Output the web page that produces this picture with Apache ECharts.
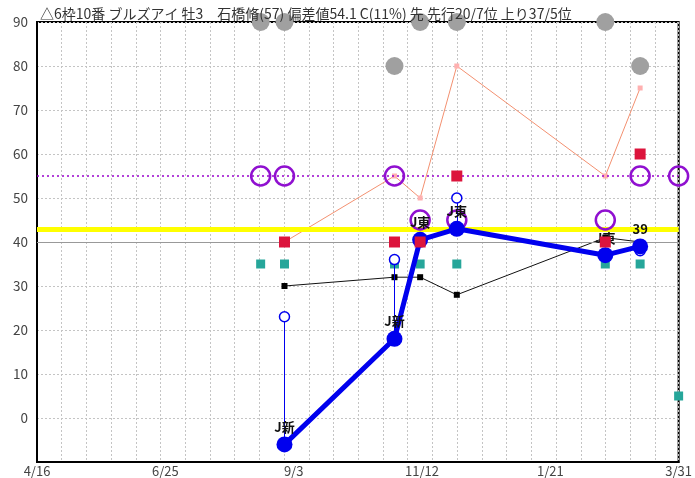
<!DOCTYPE html>
<html><head><meta charset="utf-8">
<script src="https://cdn.jsdelivr.net/npm/echarts@6/dist/echarts.min.js"></script>
<style>html,body{margin:0;padding:0;background:#fff}#c{width:695px;height:478px}</style>
</head><body><div id="c"></div>
<script>
const titleText = '△6枠10番 ブルズアイ 牡3　石橋脩(57) 偏差値54.1 C(11%) 先 先行20/7位 上り37/5位';
const startDate = '2023-04-16';
const endDate = '2024-03-31';
const tickLabels = ['4/16', '6/25', '9/3', '11/12', '1/21', '3/31'];
const raceDates = ['2023-08-16', '2023-08-29', '2023-10-28', '2023-11-11', '2023-12-01', '2024-02-20', '2024-03-10', '2024-03-31'];
const grayDots = [90, 90, 80, 90, 90, 90, 80, null];
const purpleRings = [55, 55, 55, 45, 45, 45, 55, 55];
const redSquares = [null, 40, 40, 40, 55, 40, 60, null];
const tealSquares = [35, 35, 35, 35, 35, 35, 35, 5];
const blackLine = [null, 30, 32, 32, 28, 41, 40, null];
const salmonLine = [null, 40, 55, 50, 80, 55, 75, null];
const blueOpen = [null, 23, 36, null, 50, null, 38, null];
const blueMain = [null, -6, 18, 40.5, 43, 37, 39, null];
const blueLabels = [null, 'J新', 'J新', 'J東', 'J東', 'J東', '39', null];
const refYellow = 43, refGray = 40, refPurple = 55;

const DAY = 86400000;
const t0 = Date.parse(startDate);
const spanDays = Math.round((Date.parse(endDate) - t0) / DAY);
const xs = raceDates.map(d => Math.round((Date.parse(d) - t0) / DAY));
function pts(arr) {
  const out = [];
  arr.forEach((v, i) => { if (v !== null) out.push([xs[i], v]); });
  return out;
}
const font = '"Noto Sans CJK JP", "Noto Sans", sans-serif';

const chart = echarts.init(document.getElementById('c'), null, {renderer: 'canvas'});
chart.setOption({
  animation: false,
  title: {
    text: titleText, left: 35, top: 2,
    textStyle: {fontSize: 14, fontWeight: 'normal', color: '#333', fontFamily: font}
  },
  grid: {left: 37, right: 9, top: 22, bottom: 15, show: true, borderColor: '#000', borderWidth: 2, backgroundColor: 'transparent'},
  xAxis: [{
    type: 'value', min: 0, max: spanDays, interval: 70,
    axisLine: {show: true, onZero: false, lineStyle: {color: '#000', width: 2}},
    axisTick: {show: false},
    splitLine: {show: false},
    axisLabel: {
      color: '#444', fontSize: 13, margin: 3, fontFamily: font,
      formatter: v => tickLabels[Math.round(v / 70)] || ''
    }
  }, {
    type: 'value', min: 0, max: 649 / 25, interval: 1, position: 'bottom',
    axisLine: {show: false, onZero: false}, axisTick: {show: false}, axisLabel: {show: false},
    splitLine: {show: true, lineStyle: {color: '#c4c4c4', type: [2, 2], width: 1}}
  }],
  yAxis: {
    type: 'value', min: -10, max: 90, interval: 10,
    axisLine: {show: true, onZero: false, lineStyle: {color: '#000', width: 2}},
    axisTick: {show: false},
    axisLabel: {color: '#444', fontSize: 13.5, margin: 9, fontFamily: font, formatter: v => v < 0 ? '' : String(v)},
    splitLine: {show: true, lineStyle: {color: '#c4c4c4', type: [2, 2], width: 1}}
  },
  series: [
    {
      type: 'scatter', data: pts(grayDots), symbolSize: 18, clip: false, z: 2,
      itemStyle: {color: '#a0a0a0', opacity: 1},
      markLine: {
        silent: true, symbol: 'none', label: {show: false}, animation: false,
        data: [
          {yAxis: refPurple, lineStyle: {color: '#9900cc', type: [2, 3], width: 1.5}},
          {yAxis: refGray, lineStyle: {color: '#999', type: 'solid', width: 1}},
          {yAxis: refYellow, lineStyle: {color: '#ffff00', type: 'solid', width: 5}}
        ]
      }
    },
    {
      type: 'scatter', data: pts(tealSquares), symbol: 'rect', symbolSize: 9, clip: false, z: 3,
      itemStyle: {color: '#26a69a', opacity: 1}
    },
    {
      type: 'line', data: pts(blackLine), symbol: 'rect', symbolSize: 6, showSymbol: true, z: 4,
      lineStyle: {color: '#111', width: 1}, itemStyle: {color: '#000', opacity: 1}
    },
    {
      type: 'line', data: pts(salmonLine), symbol: 'rect', symbolSize: 5, showSymbol: true, z: 4,
      lineStyle: {color: '#f39070', width: 1}, itemStyle: {color: '#ffb0b0', opacity: 1}
    },
    {
      type: 'scatter', data: pts(purpleRings), symbolSize: 19, clip: false, z: 5,
      itemStyle: {color: 'rgba(255,255,255,0)', borderColor: '#9010d0', borderWidth: 2.5, opacity: 1}
    },
    {
      type: 'scatter', data: pts(blueOpen), symbolSize: 10, z: 6,
      itemStyle: {color: '#fff', borderColor: '#0000ee', borderWidth: 1.5, opacity: 1},
      markLine: {
        silent: true, symbol: 'none', label: {show: false}, animation: false,
        lineStyle: {color: '#0000ee', type: 'solid', width: 1},
        data: blueOpen.map((v, i) => (v !== null && blueMain[i] !== null) ?
          [{coord: [xs[i], v]}, {coord: [xs[i], blueMain[i]]}] : null).filter(Boolean)
      }
    },
    {
      type: 'line', z: 7, symbol: 'circle', symbolSize: 16, showSymbol: true,
      data: blueMain.map((v, i) => v === null ? null : {
        value: [xs[i], v],
        label: {show: true, formatter: blueLabels[i]}
      }).filter(Boolean),
      lineStyle: {color: '#0000ee', width: 5},
      itemStyle: {color: '#0000ee', opacity: 1},
      label: {position: 'top', distance: 3, color: '#111', fontSize: 13, fontWeight: 'bold', fontFamily: font}
    },
    {
      type: 'scatter', data: pts(redSquares), symbol: 'rect', symbolSize: 11, clip: false, z: 8,
      itemStyle: {color: '#dc143c', opacity: 1}
    }
  ]
});
</script>
</body></html>
